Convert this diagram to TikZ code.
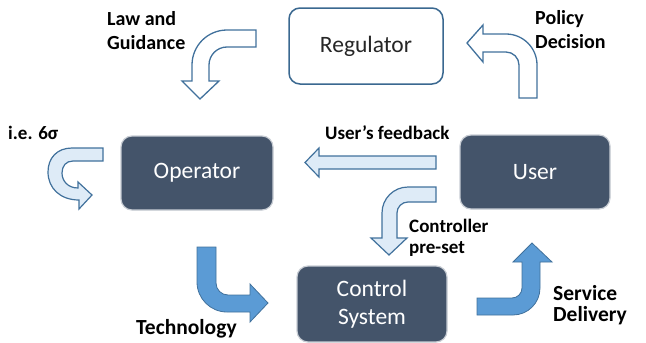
\documentclass[tikz,border=0pt]{standalone}
\usepackage{fontspec}
\setmainfont{Carlito}
\definecolor{boxdark}{HTML}{44546A}
\definecolor{boxedge}{HTML}{C8CDD4}
\definecolor{arrowline}{HTML}{41719C}
\definecolor{regline}{HTML}{3A6890}
\definecolor{lightfill}{HTML}{DEEBF7}
\definecolor{solidfill}{HTML}{5B9BD5}
\begin{document}
\begin{tikzpicture}[x=1pt,y=-1pt,
  darkbox/.style={rectangle, rounded corners=11pt, fill=boxdark, draw=boxedge,
    line width=1.2pt, text=white, align=center, inner sep=0pt,
    minimum width=150pt, minimum height=74pt,
    font=\fontsize{23.5}{28}\selectfont},
  lightbox/.style={darkbox, fill=white, draw=regline, line width=1.5pt,
    text=black!85},
  hollowarrow/.style={fill=white, draw=arrowline, line width=1.3pt, line join=miter},
  lightarrow/.style={fill=lightfill, draw=arrowline, line width=1.2pt, line join=miter},
  solidarrow/.style={fill=solidfill, draw=arrowline, line width=0.8pt, line join=miter},
  lbl/.style={anchor=base west, inner sep=0pt, text=black},
  lblA/.style={lbl, font=\bfseries\fontsize{20}{24}\selectfont},
  lblB/.style={lbl, font=\bfseries\fontsize{19}{23}\selectfont},
  lblC/.style={lbl, font=\bfseries\fontsize{21.5}{25}\selectfont}]
\useasboundingbox (0,0) rectangle (646,343);

% the four actors
\node[lightbox, minimum width=154pt, minimum height=76pt] (regulator) at (366,46) {Regulator};
\node[darkbox, minimum width=152pt] (operator) at (197,173) {Operator};
\node[darkbox] (user) at (535,172) {User};
\node[darkbox, minimum height=76pt] (control) at (372,304) {Control\\System};

% Law and Guidance: regulator -> operator
\draw[hollowarrow] (256,30) [rounded corners=35pt] -- (192,30) [sharp corners]
  -- (192,81) -- (182,81) -- (200,99) -- (219,81) -- (209,81)
  [rounded corners=18pt] -- (209,47) [sharp corners] -- (256,47) -- cycle;

% Policy Decision: user -> regulator
\draw[hollowarrow] (537,98) [rounded corners=31pt] -- (537,34) [sharp corners]
  -- (483,34) -- (483,25) -- (467,43) -- (483,62) -- (483,52)
  [rounded corners=13pt] -- (519,52) [sharp corners] -- (519,98) -- cycle;

% i.e. 6 sigma: operator loops on itself
\draw[lightarrow] (103,148) -- (72,148)
  .. controls (57,148) and (48,158) .. (48,172)
  .. controls (48,188) and (60,200) .. (79,200)
  -- (79,209) -- (92,195) -- (78,182) -- (78,188)
  .. controls (68,188) and (62,181) .. (62,173)
  .. controls (62,166) and (66,161) .. (73,161)
  -- (103,161) -- cycle;

% User's feedback: user -> operator
\draw[lightarrow] (436,156) -- (319,156) -- (319,148) -- (305,162.5)
  -- (319,177) -- (319,169) -- (436,169) -- cycle;

% Controller pre-set: user -> control system
\draw[lightarrow] (436,187) [rounded corners=26pt] -- (382,187) [sharp corners]
  -- (382,238) -- (371,238) -- (389,255) -- (407,238) -- (397,238)
  [rounded corners=11pt] -- (397,202) [sharp corners] -- (436,202) -- cycle;

% Technology: operator -> control system
\draw[solidarrow] (197,247) [rounded corners=30pt] -- (197,312) [sharp corners]
  -- (250,312) -- (250,322) -- (268,303) -- (250,284) -- (250,295)
  [rounded corners=12pt] -- (216,295) [sharp corners] -- (216,247) -- cycle;

% Service Delivery: control system -> user
\draw[solidarrow] (477,298) [rounded corners=10pt] -- (522,298) [sharp corners]
  -- (522,262) -- (513,262) -- (532,243) -- (552,262) -- (540,262)
  [rounded corners=27pt] -- (540,315) [sharp corners] -- (477,315) -- cycle;

% labels
\node[lblA] (law1) at (107,25) {Law and};
\node[lblA] (law2) at (107,49) {Guidance};
\node[lblA] (pol1) at (535,24) {Policy};
\node[lblA] (pol2) at (535,48) {Decision};
\node[lblB] (sigma) at (8,139) {i.e. 6σ};
\node[lblB] (feedback) at (325,139) {User’s feedback};
\node[lblB] (pre1) at (409,232) {Controller};
\node[lblB] (pre2) at (409,253) {pre-set};
\node[lblC] (tech) at (136,334) {Technology};
\node[lblC] (serv1) at (553,300) {Service};
\node[lblC] (serv2) at (553,321) {Delivery};
\end{tikzpicture}
\end{document}
